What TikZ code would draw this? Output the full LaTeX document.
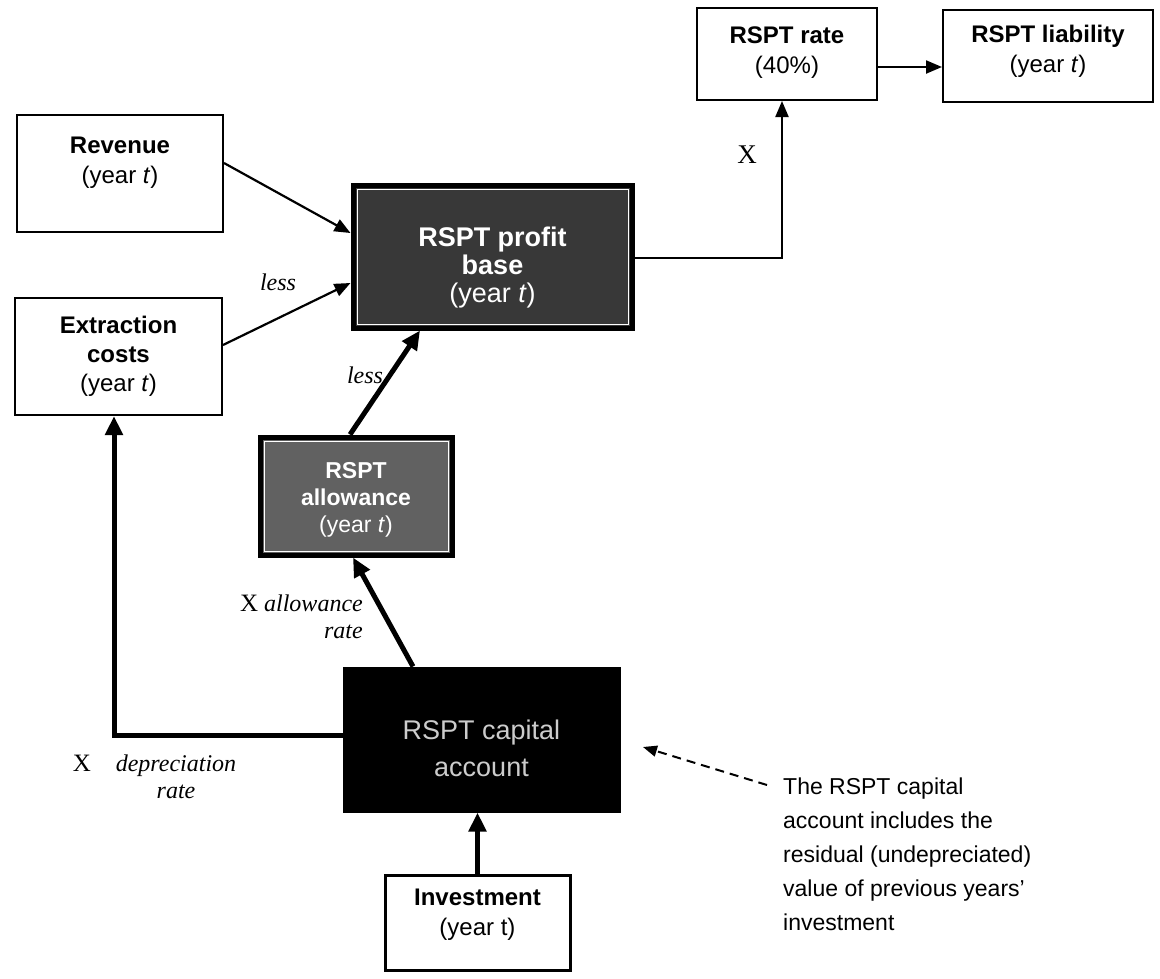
\documentclass[tikz,border=0pt]{standalone}
\usepackage{fontspec}
\setmainfont{Liberation Serif}
\setsansfont{Liberation Sans}
\usetikzlibrary{arrows.meta,calc}
\begin{document}
\begin{tikzpicture}[x=1pt,y=-1pt,
  plainbox/.style={draw=black, line width=2pt, fill=white, inner sep=0pt, align=center,
    font=\sffamily\bfseries\fontsize{24}{29}\selectfont},
  boxtext/.style={inner sep=0pt, align=center, font=\sffamily\bfseries\fontsize{24}{30}\selectfont},
  darkbox/.style={draw=black, line width=5pt, inner sep=0pt},
  darktext/.style={inner sep=0pt, align=center, text=white, font=\sffamily\bfseries\fontsize{27}{28}\selectfont},
  innerline/.style={draw=white, line width=0.9pt},
  thinarr/.style={line width=2.2pt, -{Triangle[length=16pt,width=13pt]}},
  thickarr/.style={line width=5pt, -{Triangle[length=19pt,width=17pt]}},
  dasharr/.style={line width=2pt, dash pattern=on 9pt off 6pt, -{Triangle[length=14pt,width=11pt]}},
  lbl/.style={inner sep=0pt, font=\itshape\fontsize{24}{27}\selectfont},
  xlbl/.style={inner sep=0pt, font=\fontsize{25}{28}\selectfont},
  notefont/.style={inner sep=0pt, align=left, font=\sffamily\fontsize{23}{34}\selectfont}
]
\useasboundingbox (0,0) rectangle (1160,978);

% plain boxes
\node[plainbox, minimum width=206, minimum height=117] (rev) at (120,173.5) {};
\node[boxtext] (revt) at (120,163) {Revenue\\{\mdseries(year \textit{t})}};
\node[plainbox, minimum width=207, minimum height=117] (ext) at (118.5,356.5)
  {Extraction\\costs\\{\mdseries(year \textit{t})}};
\node[plainbox, minimum width=180, minimum height=92] (rate) at (787,54) {};
\node[boxtext] (ratet) at (787,53) {RSPT rate\\{\mdseries(40\%)}};
\node[plainbox, minimum width=210, minimum height=92] (liab) at (1048,56) {};
\node[boxtext] (liabt) at (1048,51) {RSPT liability\\{\mdseries(year \textit{t})}};
\node[plainbox, line width=3pt, minimum width=185, minimum height=95] (inv) at (477.5,922.5) {};
\node[boxtext] (invt) at (477.5,915) {Investment\\{\mdseries(year t)}};

% dark boxes
\node[darkbox, fill=black!78, minimum width=279, minimum height=143] (pb) at (492.5,256.5) {};
\draw[innerline] ([shift={(6.5,6.5)}]pb.north west) rectangle ([shift={(-6.5,-6.5)}]pb.south east);
\node[darktext] (pbt) at (492.5,268) {RSPT profit\\base\\{\mdseries(year \textit{t})}};
\node[darkbox, fill=black!62, minimum width=192, minimum height=118] (alw) at (356,496) {};
\draw[innerline] ([shift={(6.5,6.5)}]alw.north west) rectangle ([shift={(-6.5,-6.5)}]alw.south east);
\node[darktext, font=\sffamily\bfseries\fontsize{23}{27}\selectfont] (alwt) at (356,500)
  {RSPT\\allowance\\{\mdseries(year \textit{t})}};
\node[draw=black, fill=black, line width=1pt, inner sep=0pt,
  minimum width=277, minimum height=145] (cap) at (481.5,739.5) {};
\node[inner sep=0pt, align=center, text=white!80!black, font=\sffamily\fontsize{27}{37}\selectfont]
  (capt) at (481.5,748) {RSPT capital\\account};

% connectors
\draw[thinarr] ([yshift=10.5]rev.east) -- ([yshift=23.5]pb.west);
\draw[thinarr] ([yshift=11.5]ext.east) -- ([yshift=-26.5]pb.west);
\draw[thinarr] ([yshift=-1.5]pb.east) -| ([xshift=-5]rate.south);
\draw[thinarr] ([yshift=-13]rate.east) -- ([yshift=-13]rate.east -| liab.west);
\draw[thickarr] ([xshift=-6]alw.north) -- ([xshift=-72.5]pb.south);
\draw[thickarr] ([xshift=-68.5]cap.north) -- ([xshift=-3]alw.south);
\draw[thickarr] (inv.north) -- (inv.north |- cap.south);
\draw[thickarr] ([yshift=4.5]cap.west) -| ([xshift=-4.5]ext.south);

% labels
\node[lbl] (less1) at (278,282) {less};
\node[lbl] (less2) at (365,375) {less};
\node[lbl, align=right, anchor=east] (alrate) at (363,616.5) {{\upshape\fontsize{25}{27}\selectfont X} allowance\\rate};
\node[xlbl] (xdep) at (82,763) {X};
\node[lbl, align=center] (deprate) at (176,776.5) {depreciation\\rate};
\node[xlbl, font=\fontsize{27}{30}\selectfont] (xrate) at (747,155) {X};

% note
\node[notefont, anchor=north west] (note) at (783,778)
  {The RSPT capital\\account includes the\\residual (undepreciated)\\value of previous years'\\investment};
\coordinate (nstart) at (767,785);
\coordinate (ntip) at (643,747);
\draw[dasharr] (nstart) -- (ntip);
\end{tikzpicture}
\end{document}
